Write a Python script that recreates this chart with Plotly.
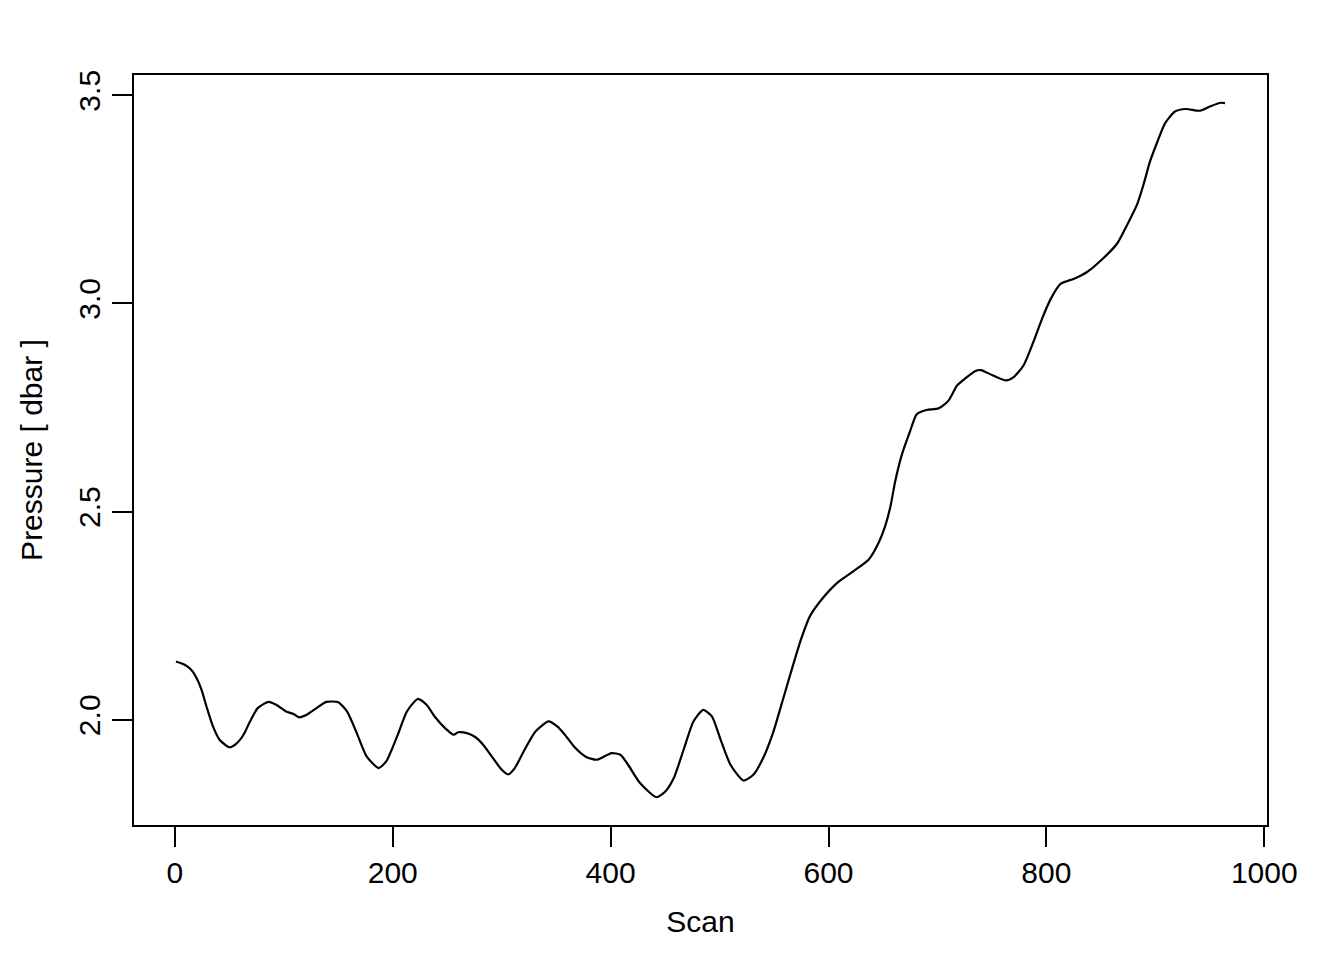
import plotly.graph_objects as go

scan = [1, 9, 15, 20, 24.5, 29, 35, 41, 50, 57, 63, 69, 76, 86, 93, 102, 109, 114, 121, 130,
        139, 150, 158, 167, 176, 187, 194, 204, 213, 223, 231, 239, 248, 256, 260, 268, 276, 283,
        292, 300, 306, 312, 321, 331, 343, 351, 358, 367, 378, 387, 395, 401, 409, 416, 427, 442,
        450, 458, 467, 476, 485, 493, 501, 510, 522, 531, 540, 549, 559, 568, 575, 583, 595, 608,
        623, 637, 646, 652, 657, 661, 667, 675, 681, 690, 701, 710, 718, 725, 735, 740, 751, 763,
        770, 779, 788, 796, 804, 813, 825, 837, 852, 865, 874, 883, 889, 895, 902, 909, 918, 928,
        941, 950, 960, 964]
pressure = [2.140, 2.132, 2.120, 2.100, 2.072, 2.032, 1.984, 1.952, 1.934, 1.944, 1.964, 1.996,
            2.028, 2.043, 2.036, 2.020, 2.014, 2.006, 2.012, 2.028, 2.043, 2.042, 2.020, 1.968,
            1.912, 1.884, 1.900, 1.960, 2.020, 2.050, 2.036, 2.006, 1.980, 1.964, 1.970, 1.968,
            1.958, 1.940, 1.908, 1.880, 1.869, 1.884, 1.928, 1.972, 1.996, 1.984, 1.964, 1.934,
            1.910, 1.904, 1.913, 1.920, 1.916, 1.892, 1.848, 1.814, 1.827, 1.860, 1.928, 1.996,
            2.024, 2.008, 1.952, 1.892, 1.854, 1.868, 1.908, 1.968, 2.056, 2.136, 2.195, 2.249,
            2.293, 2.329, 2.357, 2.385, 2.425, 2.465, 2.514, 2.570, 2.634, 2.694, 2.734, 2.744,
            2.748, 2.766, 2.803, 2.819, 2.838, 2.840, 2.827, 2.815, 2.823, 2.851, 2.907, 2.963,
            3.011, 3.047, 3.059, 3.075, 3.108, 3.144, 3.188, 3.236, 3.284, 3.340, 3.389, 3.433,
            3.461, 3.467, 3.463, 3.473, 3.482, 3.481]

x_ticks = [0, 200, 400, 600, 800, 1000]
y_ticks = [2.0, 2.5, 3.0, 3.5]
y_tick_labels = ["2.0", "2.5", "3.0", "3.5"]


def padded(vals, f=0.04):
    lo, hi = min(vals), max(vals)
    r = hi - lo
    return [lo - f * r, hi + f * r]


FONT = "Liberation Sans, Arial, Helvetica, sans-serif"

fig = go.Figure()
fig.add_trace(go.Scatter(
    x=scan, y=pressure, mode="lines",
    line=dict(color="black", width=2.2, shape="spline", smoothing=0.6),
    showlegend=False, hoverinfo="x+y",
))

# the page body has an 8px margin, so the figure is 8px smaller and margins shifted
fig.update_layout(
    width=1336, height=952,
    margin=dict(l=126, r=77, t=67, b=135),
    paper_bgcolor="white", plot_bgcolor="white",
    font=dict(family=FONT, size=30, color="black"),
)
fig.update_xaxes(
    range=padded(scan), tickvals=x_ticks, ticktext=[str(v) for v in x_ticks],
    showgrid=False, zeroline=False,
    showline=True, linecolor="black", linewidth=2, mirror=True,
    ticks="outside", ticklen=20, tickwidth=2, tickcolor="black",
    tickfont=dict(size=30),
    title=dict(text="Scan", font=dict(size=30), standoff=23),
)
fig.update_yaxes(
    range=padded(pressure), tickvals=y_ticks, ticktext=y_tick_labels,
    tickangle=-90,
    showgrid=False, zeroline=False,
    showline=True, linecolor="black", linewidth=2, mirror=True,
    ticks="outside", ticklen=20, tickwidth=2, tickcolor="black",
    tickfont=dict(size=30),
    title=dict(text="Pressure [ dbar ]", font=dict(size=30), standoff=22),
)

fig.write_html("out.html")
